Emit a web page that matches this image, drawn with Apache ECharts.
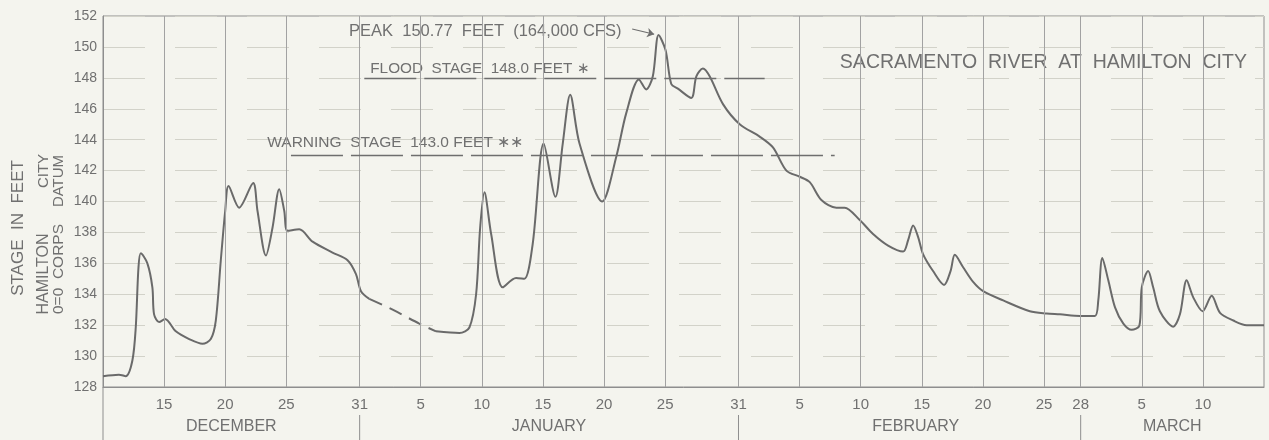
<!DOCTYPE html>
<html><head><meta charset="utf-8">
<script src="https://cdn.jsdelivr.net/npm/echarts@6/dist/echarts.min.js"></script>
<style>html,body{margin:0;padding:0;background:#f4f4ee}#c{width:1269px;height:440px}</style>
</head><body><div id="c"></div>
<script>
// Day index: Dec 1 = 1, Jan 1 = 32, Feb 1 = 63, Mar 1 = 91
const days = [10.0,11.3,11.86,12.4,12.68,12.9,13.09,13.63,14.04,14.18,14.59,15.08,15.96,17.05,18.14,18.82,19.23,19.64,20.0,20.27,21.14,22.29,22.64,23.33,23.87,24.42,24.83,25.1,26.06,27.15,28.78,30.01,30.7,31.11,31.79,33.7,35.88,37.25,39.16,39.98,40.53,40.86,41.21,41.76,42.71,43.8,44.48,45.16,46.06,47.02,47.62,48.23,48.99,50.85,52.0,52.81,53.85,54.45,54.99,55.46,56.03,56.5,57.04,58.14,58.55,59.09,59.64,60.73,62.1,63.73,64.82,65.92,67.01,67.83,68.78,70.01,70.69,71.92,73.01,74.24,75.47,75.88,76.29,76.7,77.1,77.92,78.82,79.35,79.7,80.38,81.2,82.02,83.66,85.84,87.21,88.3,89.94,91.17,91.44,91.77,92.26,92.81,93.49,94.17,94.8,95.0,95.52,95.93,96.48,97.57,98.12,98.67,99.21,99.98,100.72,101.4,102.49,103.58,105.0];
const stage = [128.7,128.8,128.7,129.7,131.85,135.7,136.65,136.0,134.45,132.7,132.2,132.4,131.6,131.1,130.8,131.1,132.3,136.2,139.4,141.0,139.6,141.2,139.4,136.5,138.3,140.8,139.4,138.1,138.2,137.4,136.7,136.2,135.3,134.2,133.7,133.0,132.1,131.6,131.5,131.85,134.0,138.3,140.6,137.9,134.45,135.05,135.0,137.25,143.75,140.3,143.75,146.9,143.75,140.0,142.9,145.7,147.9,147.25,148.1,150.77,149.8,147.6,147.3,146.7,148.1,148.6,148.1,146.3,145.0,144.2,143.5,142.0,141.6,141.25,140.1,139.6,139.6,138.8,137.9,137.15,136.76,137.5,138.45,137.7,136.6,135.5,134.6,135.5,136.55,135.75,134.8,134.2,133.6,132.9,132.75,132.7,132.6,132.6,133.6,136.35,134.9,133.15,132.1,131.7,131.96,134.45,135.5,134.45,132.9,131.9,132.7,134.9,133.8,132.9,133.9,132.8,132.3,132.0,132.0];
const estStart = 31.79, estEnd = 37.25;   // estimated (dashed) part of record
const tickDays = [15,20,25,31,36,41,46,51,56,62,67,72,77,82,87,90,95,100];
const tickLabels = ['15','20','25','31','5','10','15','20','25','31','5','10','15','20','25','28','5','10'];
const monthNames = ['DECEMBER','JANUARY','FEBRUARY','MARCH'];
const monthCenters = [20.5,46.5,76.5,97.5];
const monthEnds = [31,62,90];
const floodStage = 148.0, warningStage = 143.0, peakStage = 150.77;

const TXT = '#707070', FONT = '"Liberation Sans", Arial, sans-serif';
const solid = days.map((d,i)=> [d, (d > estStart && d < estEnd) ? null : stage[i]]);
const dashed = days.map((d,i)=> [d, stage[i]]).filter(p => p[0] >= estStart && p[0] <= estEnd);

const chart = echarts.init(document.getElementById('c'), null, {renderer:'canvas'});
chart.setOption({
  backgroundColor: '#f4f4ee',
  animation: false,
  grid: {left:103, right:5, top:16, bottom:53, show:true, borderColor:'#8e8e8e', borderWidth:1, backgroundColor:'transparent'},
  xAxis: [{
    type:'value', min:10, max:105, interval:1,
    axisLine:{show:true, lineStyle:{color:'#8e8e8e'}}, axisTick:{show:false}, splitLine:{show:false},
    axisLabel:{color:TXT, fontFamily:FONT, fontSize:15, margin:10,
      formatter: v => { const k = tickDays.indexOf(Math.round(v)); return (k>=0 && Math.abs(v-tickDays[k])<1e-6) ? tickLabels[k] : ''; }}
  },{
    type:'value', min:10, max:105, interval:0.5, position:'bottom', offset:26,
    axisLine:{show:false}, axisTick:{show:false}, splitLine:{show:false},
    axisLabel:{color:TXT, fontFamily:FONT, fontSize:16, margin:6,
      formatter: v => { const k = monthCenters.findIndex(c => Math.abs(c-v)<1e-6); return k>=0 ? monthNames[k] : ''; }}
  }],
  yAxis: {
    type:'value', min:128, max:152, interval:2,
    axisLine:{show:true, lineStyle:{color:'#8e8e8e'}}, axisTick:{show:false},
    axisLabel:{color:TXT, fontFamily:FONT, fontSize:14, margin:6},
    splitLine:{show:true, lineStyle:{color:'#d2d2c9', width:1, type:[42,30]}}
  },
  series: [
    { type:'line', name:'grid', data:[], z:1, silent:true,
      markLine:{silent:true, symbol:['none','none'], label:{show:false},
        lineStyle:{color:'#a2a2a2', width:1, type:'solid'},
        data: tickDays.map(d => ({xAxis:d}))} },
    { type:'line', name:'stage', data: solid, smooth:0.3, showSymbol:false, z:3,
      lineStyle:{color:'#6a6a6a', width:2}, connectNulls:false,
      markLine:{silent:true, symbol:['none','none'], label:{show:false},
        lineStyle:{color:'#6e6e6e', width:1.3, type:[52,8]},
        data:[
          [{coord:[31.38, floodStage]},{coord:[64.14, floodStage]}],
          [{coord:[25.38, warningStage]},{coord:[69.87, warningStage]}],
          [{coord:[53.3, 151.16], lineStyle:{type:'solid', width:1.2}, symbol:'none'},{coord:[55.1, peakStage+0.05], symbol:'arrow', symbolSize:7}]
        ]} },
    { type:'line', name:'estimated', data: dashed, smooth:0.3, showSymbol:false, z:3,
      lineStyle:{color:'#6a6a6a', width:2, type:[14,8]} }
  ]
});

function px(d, v){ return chart.convertToPixel({gridIndex:0}, [d, v]); }
const yBottom = px(10,128)[1];
const g = [];
function txt(x, y, s, size, align, rot){
  g.push({type:'text', x:x, y:y, rotation: rot||0, silent:true,
    style:{text:s, fill:TXT, font: size+'px '+FONT, textAlign:align||'left', textVerticalAlign:'middle'}});
}
const pk = px(30.13, 151.0); txt(pk[0], pk[1], 'PEAK  150.77  FEET  (164,000 CFS)', 16.5, 'left');
const fl = px(31.87, 148.6); txt(fl[0], fl[1], 'FLOOD  STAGE  148.0 FEET \u2217', 15.3, 'left');
const wr = px(23.44, 143.8); txt(wr[0], wr[1], 'WARNING  STAGE  143.0 FEET \u2217\u2217', 15.5, 'left');
const sc = px(103.6, 149.0); txt(sc[0], sc[1], 'SACRAMENTO  RIVER  AT  HAMILTON  CITY', 19.5, 'right');
// vertical axis titles
txt(18, 228, 'STAGE  IN  FEET', 17, 'center', Math.PI/2);
txt(44, 274, 'HAMILTON', 16, 'center', Math.PI/2);
txt(44, 171, 'CITY', 15, 'center', Math.PI/2);
txt(59, 269, '0=0  CORPS', 15.5, 'center', Math.PI/2);
txt(59, 181, 'DATUM', 15, 'center', Math.PI/2);
// lower band borders and month separators
const xl = px(10,128)[0];
g.push({type:'line', silent:true, shape:{x1:xl, y1:yBottom, x2:xl, y2:440}, style:{stroke:'#8e8e8e', lineWidth:1}});
monthEnds.forEach(d => { const x = px(d,128)[0];
  g.push({type:'line', silent:true, shape:{x1:x, y1:yBottom+28, x2:x, y2:440}, style:{stroke:'#8e8e8e', lineWidth:1}}); });
chart.setOption({graphic: g});
</script></body></html>
